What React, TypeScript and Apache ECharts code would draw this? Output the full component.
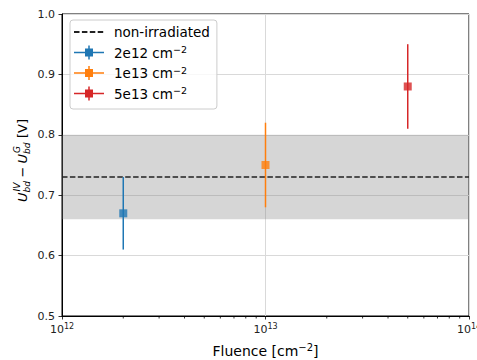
import React, { useEffect, useRef } from 'react';
import * as echarts from 'echarts';

const fluences = [2e12, 1e13, 5e13];
const seriesNames = ['2e12 cm^-2', '1e13 cm^-2', '5e13 cm^-2'];
const meanValues = [0.67, 0.75, 0.88];
const lowerValues = [0.61, 0.68, 0.81];
const upperValues = [0.73, 0.82, 0.95];
const seriesColors = ['#1f77b4', '#ff7f0e', '#d62728'];
const referenceName = 'non-irradiated';
const referenceValue = 0.73;
const bandRange = [0.66, 0.8];
const xRange = [1e12, 1e14];
const yRange = [0.5, 1.0];
const yTickStep = 0.1;
const minorTickValues = [
  2e12, 3e12, 4e12, 5e12, 6e12, 7e12, 8e12, 9e12,
  2e13, 3e13, 4e13, 5e13, 6e13, 7e13, 8e13, 9e13,
];

const FONT = 'DejaVu Sans';
const ERR_ICON =
  'path://M0,6.25H11V3H14.25V0H15.75V3H19V6.25H30V7.75H19V11H15.75V14H14.25V11H11V7.75H0Z';

export default function App() {
  const ref = useRef<HTMLDivElement>(null);

  useEffect(() => {
    if (!ref.current) return;
    const chart = echarts.init(ref.current, undefined, { renderer: 'svg' });

    const supRich = {
      sup: { fontSize: 9.5, fontFamily: FONT, verticalAlign: 'top', lineHeight: 9, color: '#000' },
    };

    const yLabelChildren: any[] = [];
    const txt = (text: string, x: number, y: number, size: number, italic: boolean) => ({
      type: 'text',
      x,
      y,
      style: {
        text,
        fontSize: size,
        fontFamily: FONT,
        fontStyle: italic ? 'italic' : 'normal',
        fill: '#000',
        textAlign: 'left',
        textVerticalAlign: 'middle',
      },
    });
    const o = -42;
    yLabelChildren.push(txt('U', o + 0, 0, 13, true));
    yLabelChildren.push(txt('IV', o + 10.5, -5, 9, true));
    yLabelChildren.push(txt('bd', o + 9.5, 4.5, 9, true));
    yLabelChildren.push(txt('\u2212', o + 24.5, 0, 13, false));
    yLabelChildren.push(txt('U', o + 38.5, 0, 13, true));
    yLabelChildren.push(txt('G', o + 49, -5, 9, true));
    yLabelChildren.push(txt('bd', o + 48, 4.5, 9, true));
    yLabelChildren.push(txt('[V]', o + 64, 0, 13, false));

    const series: any[] = [];

    series.push({
      name: 'band',
      type: 'line',
      data: [],
      z: 1,
      silent: true,
      markArea: {
        silent: true,
        itemStyle: { color: 'rgba(128,128,128,0.32)' },
        data: [[{ yAxis: bandRange[0] }, { yAxis: bandRange[1] }]],
      },
    });

    series.push({
      name: referenceName,
      type: 'line',
      data: [
        [xRange[0], referenceValue],
        [xRange[1], referenceValue],
      ],
      symbol: 'none',
      color: '#222',
      lineStyle: { color: '#222', width: 1.5, type: [5.5, 2.4] },
      z: 2,
      silent: true,
    });

    fluences.forEach((f, i) => {
      series.push({
        name: seriesNames[i],
        type: 'custom',
        color: seriesColors[i],
        z: 3,
        silent: true,
        encode: { x: 0, y: [1, 2] },
        data: [[f, lowerValues[i], upperValues[i]]],
        renderItem: (params: any, api: any) => {
          const x = api.value(0);
          const p1 = api.coord([x, api.value(1)]);
          const p2 = api.coord([x, api.value(2)]);
          return {
            type: 'line',
            shape: { x1: p1[0], y1: p1[1], x2: p2[0], y2: p2[1] },
            style: { stroke: seriesColors[i], lineWidth: 1.5 },
          };
        },
      });
      series.push({
        name: seriesNames[i],
        type: 'scatter',
        color: seriesColors[i],
        symbol: 'rect',
        symbolSize: 8,
        itemStyle: { color: seriesColors[i] },
        z: 4,
        silent: true,
        data: [[f, meanValues[i]]],
      });
    });

    series.push({
      name: 'minorTicks',
      type: 'custom',
      silent: true,
      clip: false,
      z: 5,
      data: minorTickValues.map((v) => [v, yRange[0]]),
      renderItem: (params: any, api: any) => {
        const p = api.coord([api.value(0), api.value(1)]);
        return {
          type: 'line',
          shape: { x1: p[0], y1: p[1], x2: p[0], y2: p[1] + 2.5 },
          style: { stroke: '#000', lineWidth: 0.8 },
        };
      },
    });

    chart.setOption({
      animation: false,
      textStyle: { fontFamily: FONT },
      grid: {
        left: 62,
        right: 8,
        top: 14,
        bottom: 44,
        show: true,
        borderColor: '#000',
        borderWidth: 1,
        backgroundColor: 'transparent',
        containLabel: false,
        outerBoundsMode: 'none',
      },
      xAxis: {
        type: 'log',
        logBase: 10,
        min: xRange[0],
        max: xRange[1],
        name: 'Fluence [cm{sup|\u22122}]',
        nameLocation: 'middle',
        nameGap: 26,
        nameTextStyle: {
          fontSize: 14,
          fontFamily: FONT,
          color: '#000',
          lineHeight: 17,
          rich: { sup: { fontSize: 10, fontFamily: FONT, verticalAlign: 'top', lineHeight: 10, color: '#000' } },
        },
        axisLine: { show: true, lineStyle: { color: '#000', width: 1 } },
        axisTick: { show: true, inside: false, length: 3.5, lineStyle: { color: '#000', width: 0.8 } },
        minorTick: { show: false },
        splitLine: { show: true, lineStyle: { color: '#d9d9d9', width: 1 } },
        axisLabel: {
          show: true,
          margin: 6,
          showMinLabel: true,
          showMaxLabel: true,
          hideOverlap: false,
          fontSize: 11,
          fontFamily: FONT,
          color: '#222',
          lineHeight: 14,
          formatter: (v: number) => '10{sup|' + Math.round(Math.log10(v)) + '}',
          rich: { sup: { fontSize: 8, fontFamily: FONT, verticalAlign: 'top', lineHeight: 8, color: '#222' } },
        },
      },
      yAxis: {
        type: 'value',
        min: yRange[0],
        max: yRange[1],
        interval: yTickStep,
        axisLine: { show: true, lineStyle: { color: '#000', width: 1 } },
        axisTick: { show: true, inside: false, length: 3.5, lineStyle: { color: '#000', width: 0.8 } },
        splitLine: { show: true, lineStyle: { color: '#d9d9d9', width: 1 } },
        axisLabel: {
          show: true,
          margin: 7,
          fontSize: 11,
          fontFamily: FONT,
          color: '#222',
          showMinLabel: true,
          showMaxLabel: true,
          formatter: (v: number) => v.toFixed(1),
        },
      },
      legend: {
        show: true,
        orient: 'vertical',
        left: 70,
        top: 20,
        itemWidth: 30,
        itemHeight: 14,
        itemGap: 4.5,
        padding: [4, 7, 7.5, 3],
        backgroundColor: 'rgba(255,255,255,0.8)',
        borderColor: '#cccccc',
        borderWidth: 1,
        borderRadius: 3,
        selectedMode: false,
        data: [
          { name: referenceName, itemStyle: { opacity: 0, color: 'transparent', borderWidth: 0 } },
          ...seriesNames.map((n) => ({ name: n, icon: ERR_ICON })),
        ],
        formatter: (name: string) =>
          name.endsWith('^-2') ? name.replace('^-2', '') + '{sup|\u22122}' : name,
        textStyle: {
          fontFamily: FONT,
          fontSize: 13.5,
          color: '#000',
          lineHeight: 16,
          padding: [0, 0, 0, 5],
          rich: supRich,
        },
      },
      graphic: [
        {
          type: 'group',
          x: 22,
          y: 160,
          rotation: Math.PI / 2,
          children: yLabelChildren,
        },
      ],
      series,
    });

    return () => chart.dispose();
  }, []);

  return (
    <div
      ref={ref}
      style={{ position: 'absolute', left: 0, top: 0, width: 477, height: 360 }}
    />
  );
}
